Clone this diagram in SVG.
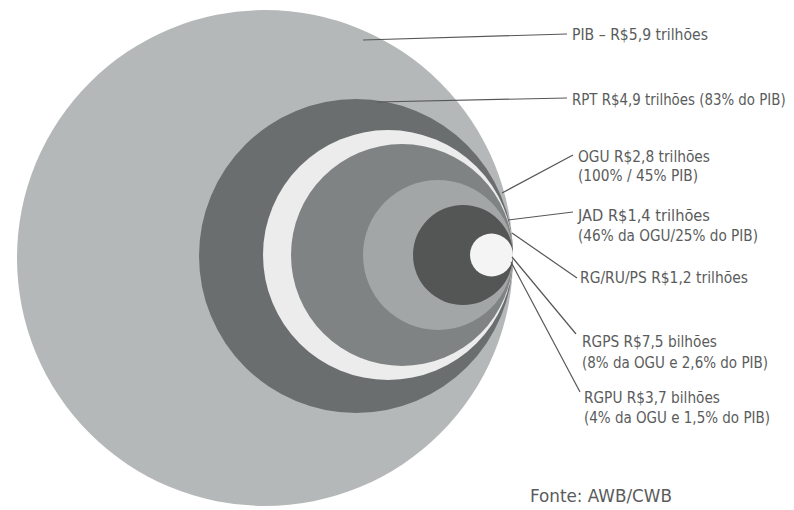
<svg xmlns="http://www.w3.org/2000/svg" width="794" height="510" viewBox="0 0 794 510">
  <style>
    .lbl { font-family: "Liberation Sans Narrow", "DejaVu Sans Condensed", "Liberation Sans", sans-serif; font-size: 16.5px; fill: #5a5c5c; }
    .src { font-size: 18px; }
    .lead { stroke: #555857; stroke-width: 1.2; fill: none; }
  </style>
  <rect width="794" height="510" fill="#ffffff"/>

  <!-- nested, internally tangent circles -->
  <g id="pib"><circle cx="265" cy="258" r="248" fill="#b5b8b8"/></g>
  <g id="rpt"><circle cx="356" cy="256" r="157" fill="#6b6e6e"/></g>
  <g id="ring"><circle cx="388" cy="255" r="125" fill="#ececec"/></g>
  <g id="ogu"><circle cx="402" cy="255" r="111" fill="#7f8383"/></g>
  <g id="jad"><circle cx="438" cy="255" r="75" fill="#a3a6a6"/></g>
  <g id="rg"><circle cx="463" cy="255" r="50" fill="#545655"/></g>
  <g id="core"><circle cx="491.5" cy="255" r="21.5" fill="#f4f4f5"/></g>

  <!-- leader lines -->
  <g id="connectors">
    <line class="lead" x1="363" y1="40" x2="567" y2="34"/>
    <line class="lead" x1="377" y1="102" x2="567" y2="98"/>
    <line class="lead" x1="502" y1="193" x2="573" y2="155"/>
    <line class="lead" x1="508" y1="220" x2="573" y2="212"/>
    <line class="lead" x1="512" y1="233" x2="577" y2="278"/>
    <line class="lead" x1="512" y1="257" x2="576" y2="334"/>
    <line class="lead" x1="511" y1="262" x2="580" y2="392"/>
  </g>

  <!-- labels -->
  <g id="labels">
    <text class="lbl" x="572" y="40" textLength="136" lengthAdjust="spacingAndGlyphs">PIB – R$5,9 trilhões</text>
    <!-- long label: horizontally condensed so it stays inside the canvas -->
    <g transform="translate(572,105) scale(0.8,1)">
      <text class="lbl" x="0" y="0" textLength="267" lengthAdjust="spacingAndGlyphs">RPT R$4,9 trilhões (83% do PIB)</text>
    </g>
    <text class="lbl" x="578" y="162" textLength="132" lengthAdjust="spacingAndGlyphs">OGU R$2,8 trilhões</text>
    <text class="lbl" x="578" y="181" textLength="120" lengthAdjust="spacingAndGlyphs">(100% / 45% PIB)</text>
    <text class="lbl" x="578" y="221" textLength="132" lengthAdjust="spacingAndGlyphs">JAD R$1,4 trilhões</text>
    <text class="lbl" x="578" y="241" textLength="180" lengthAdjust="spacingAndGlyphs">(46% da OGU/25% do PIB)</text>
    <text class="lbl" x="580" y="283" textLength="168" lengthAdjust="spacingAndGlyphs">RG/RU/PS R$1,2 trilhões</text>
    <text class="lbl" x="582" y="347" textLength="135" lengthAdjust="spacingAndGlyphs">RGPS R$7,5 bilhões</text>
    <text class="lbl" x="582" y="368" textLength="186" lengthAdjust="spacingAndGlyphs">(8% da OGU e 2,6% do PIB)</text>
    <text class="lbl" x="584" y="403" textLength="136" lengthAdjust="spacingAndGlyphs">RGPU R$3,7 bilhões</text>
    <text class="lbl" x="584" y="423" textLength="186" lengthAdjust="spacingAndGlyphs">(4% da OGU e 1,5% do PIB)</text>
    <text class="lbl src" x="530" y="502" textLength="142" lengthAdjust="spacingAndGlyphs">Fonte: AWB/CWB</text>
  </g>
</svg>
